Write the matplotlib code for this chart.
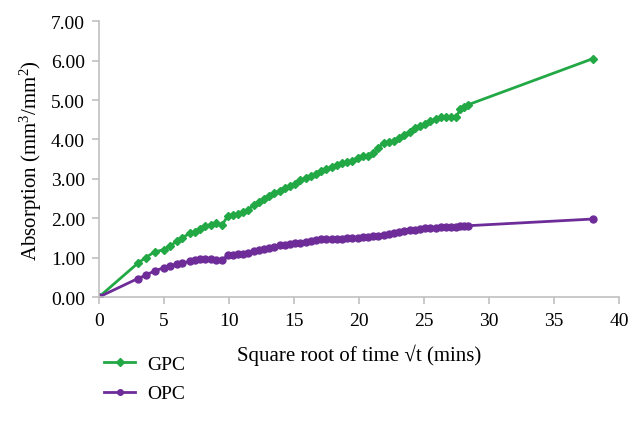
import matplotlib
matplotlib.use('Agg')
import matplotlib.pyplot as plt

plt.rcParams['font.family'] = ['Liberation Serif', 'DejaVu Serif']
plt.rcParams['mathtext.fontset'] = 'custom'
plt.rcParams['mathtext.rm'] = 'Liberation Serif'
plt.rcParams['mathtext.it'] = 'Liberation Serif:italic'

# square root of time (mins) and absorption readings
sqrt_time = [0, 3.0, 3.6, 4.3, 5.0, 5.5, 6.0, 6.4, 7.0, 7.4, 7.8, 8.2, 8.6, 9.0, 9.5, 9.9,
             10.3, 10.7, 11.1, 11.5, 11.9, 12.3, 12.7, 13.1, 13.5, 13.9, 14.3, 14.7,
             15.1, 15.5, 15.9, 16.3, 16.7, 17.1, 17.5, 17.9, 18.3, 18.7, 19.1, 19.5,
             19.9, 20.3, 20.7, 21.1, 21.5, 21.9, 22.3, 22.7, 23.1, 23.5, 23.9, 24.3,
             24.7, 25.1, 25.5, 25.9, 26.3, 26.7, 27.1, 27.5, 27.8, 28.1, 28.4, 38.0]

gpc = [0, 0.86, 1.00, 1.15, 1.20, 1.30, 1.42, 1.50, 1.62, 1.66, 1.73, 1.80, 1.84, 1.88,
       1.84, 2.05, 2.08, 2.12, 2.15, 2.22, 2.33, 2.40, 2.50, 2.56, 2.63, 2.70, 2.77,
       2.82, 2.87, 2.96, 3.01, 3.06, 3.12, 3.19, 3.25, 3.31, 3.36, 3.40, 3.42, 3.46,
       3.52, 3.57, 3.59, 3.66, 3.78, 3.92, 3.93, 3.95, 4.04, 4.12, 4.20, 4.28, 4.34,
       4.40, 4.47, 4.52, 4.56, 4.58, 4.57, 4.58, 4.76, 4.82, 4.88, 6.05]

opc = [0, 0.47, 0.55, 0.67, 0.74, 0.80, 0.83, 0.86, 0.91, 0.93, 0.96, 0.96, 0.96, 0.95,
       0.93, 1.06, 1.07, 1.08, 1.10, 1.13, 1.16, 1.19, 1.22, 1.25, 1.28, 1.31, 1.33,
       1.35, 1.37, 1.38, 1.40, 1.42, 1.45, 1.47, 1.48, 1.48, 1.48, 1.48, 1.49, 1.49,
       1.50, 1.52, 1.53, 1.55, 1.56, 1.58, 1.60, 1.62, 1.64, 1.67, 1.69, 1.71, 1.73,
       1.74, 1.75, 1.76, 1.77, 1.77, 1.78, 1.79, 1.80, 1.81, 1.81, 1.98]

x_ticks = [0, 5, 10, 15, 20, 25, 30, 35, 40]
y_ticks = [0, 1, 2, 3, 4, 5, 6, 7]

green = '#22a845'
purple = '#6e2c99'
grey = '#c0c0c0'

fig = plt.figure(figsize=(6.42, 4.27), dpi=100)
ax = fig.add_axes([0.154, 0.302, 0.81, 0.646])

ax.plot(sqrt_time, gpc, color=green, lw=2, marker='D', ms=4.5, mec=green, label='GPC')
ax.plot(sqrt_time, opc, color=purple, lw=2, marker='o', ms=5, mec=purple, label='OPC')

ax.set_xlim(0, 40)
ax.set_ylim(0, 7)
ax.set_xticks(x_ticks)
ax.set_yticks(y_ticks)
ax.set_yticklabels([f'{v:.2f}' for v in y_ticks])

for side in ['top', 'right']:
    ax.spines[side].set_visible(False)
for side in ['left', 'bottom']:
    ax.spines[side].set_color(grey)
    ax.spines[side].set_linewidth(1.2)
ax.tick_params(colors=grey, labelcolor='black', labelsize=14, length=5, width=1.2)
ax.tick_params(axis='x', pad=6)
ax.tick_params(axis='y', pad=5)

ax.set_xlabel('Square root of time \u221at (mins)', fontsize=15, labelpad=10)
ax.set_ylabel('Absorption (mm$^3$/mm$^2$)', fontsize=15, labelpad=5)

fig.legend(loc='upper left', bbox_to_anchor=(0.135, 0.206), frameon=False,
           fontsize=14, handlelength=1.6, handletextpad=0.6, labelspacing=0.6,
           markerscale=0.8)

fig.savefig('out.png', dpi=100)
